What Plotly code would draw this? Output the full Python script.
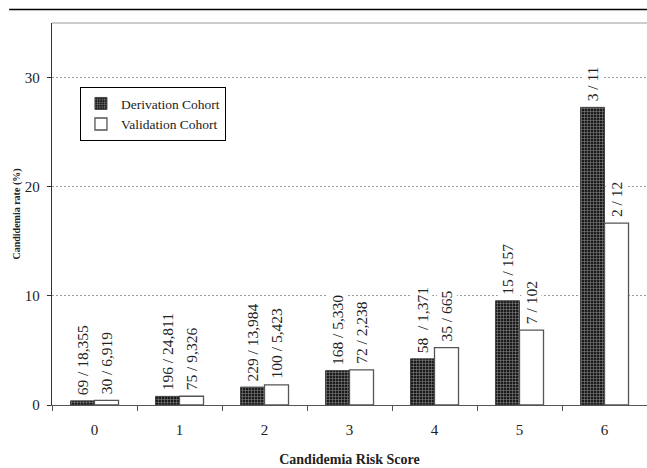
import plotly.graph_objects as go

categories = ["0", "1", "2", "3", "4", "5", "6"]
derivation_rate = [0.38, 0.79, 1.64, 3.15, 4.23, 9.55, 27.27]
validation_rate = [0.43, 0.80, 1.84, 3.22, 5.26, 6.86, 16.67]
derivation_labels = ["69 / 18,355", "196 / 24,811", "229 / 13,984", "168 / 5,330",
                     "58  / 1,371", "15 / 157", "3 / 11"]
validation_labels = ["30 / 6,919", "75 / 9,326", "100 / 5,423", "72 / 2,238",
                     "35 / 665", "7 / 102", "2 / 12"]
y_ticks = [0, 10, 20, 30]

FONT = "Liberation Serif, Times New Roman, serif"
BAR_W = 0.2825  # fraction of a category per bar

fig = go.Figure()
fig.add_trace(go.Bar(
    x=categories, y=derivation_rate, name="Derivation Cohort",
    marker=dict(color="#1a1a1a",
                line=dict(color="#444444", width=1),
                pattern=dict(shape="+", bgcolor="#1a1a1a", fgcolor="#e8e8e8",
                             size=3, solidity=0.35)),
))
fig.add_trace(go.Bar(
    x=categories, y=validation_rate, name="Validation Cohort",
    marker=dict(color="white", line=dict(color="#555555", width=1.3)),
))

annotations = []
for i, (v, t) in enumerate(zip(derivation_rate, derivation_labels)):
    annotations.append(dict(x=i - BAR_W / 2, y=v, text=t, textangle=-90,
                            xref="x", yref="y", showarrow=False,
                            yanchor="bottom", xanchor="center", yshift=4,
                            bgcolor="white", borderpad=1,
                            font=dict(family=FONT, size=15.5, color="#222")))
for i, (v, t) in enumerate(zip(validation_rate, validation_labels)):
    annotations.append(dict(x=i + BAR_W / 2, y=v, text=t, textangle=-90,
                            xref="x", yref="y", showarrow=False,
                            yanchor="bottom", xanchor="center", yshift=4,
                            bgcolor="white", borderpad=1,
                            font=dict(family=FONT, size=15.5, color="#222")))

fig.update_layout(
    width=647, height=468,
    margin=dict(l=52, r=0, t=23, b=63),
    paper_bgcolor="white", plot_bgcolor="white",
    barmode="group", bargap=1 - 2 * BAR_W, bargroupgap=0,
    font=dict(family=FONT, color="#222"),
    annotations=annotations,
    legend=dict(x=0.047, y=0.832, xanchor="left", yanchor="top",
                bordercolor="black", borderwidth=1, bgcolor="white",
                font=dict(family=FONT, size=13.5, color="#222"),
                itemwidth=30),
    shapes=[
        dict(type="line", xref="paper", yref="paper", x0=-0.072, x1=1.0,
             y0=1.0353, y1=1.0353, line=dict(color="black", width=1.5)),
        dict(type="line", xref="paper", yref="paper", x0=0, x1=1.0,
             y0=1, y1=1, line=dict(color="#bbbbbb", width=1.5)),
    ],
)
fig.update_xaxes(
    type="category", range=[-0.5, 6.5], automargin=False,
    showline=True, linecolor="#555555", linewidth=1.3,
    ticks="outside", tickson="boundaries", ticklen=5, tickcolor="#555555",
    showgrid=False, ticklabelstandoff=11,
    tickfont=dict(family=FONT, size=15, color="#222"),
    title=dict(text="<b>Candidemia Risk Score</b>", standoff=17,
               font=dict(family=FONT, size=14, color="#222")),
)
fig.update_yaxes(
    range=[0, 35], tickvals=y_ticks, automargin=False,
    showline=True, linecolor="#333333", linewidth=1.3,
    ticks="outside", ticklen=4, tickcolor="#333333",
    showgrid=True, gridcolor="#9a9a9a", griddash="2px,2px", gridwidth=1,
    zeroline=False, ticklabelstandoff=4,
    tickfont=dict(family=FONT, size=15, color="#222"),
    title=dict(text="<b>Candidemia rate (%)</b>", standoff=2,
               font=dict(family=FONT, size=10, color="#222")),
)

fig.write_html("out.html",
               config={"displayModeBar": False},
               post_script="document.body.style.margin='0';"
                           "document.body.style.overflow='hidden';")
